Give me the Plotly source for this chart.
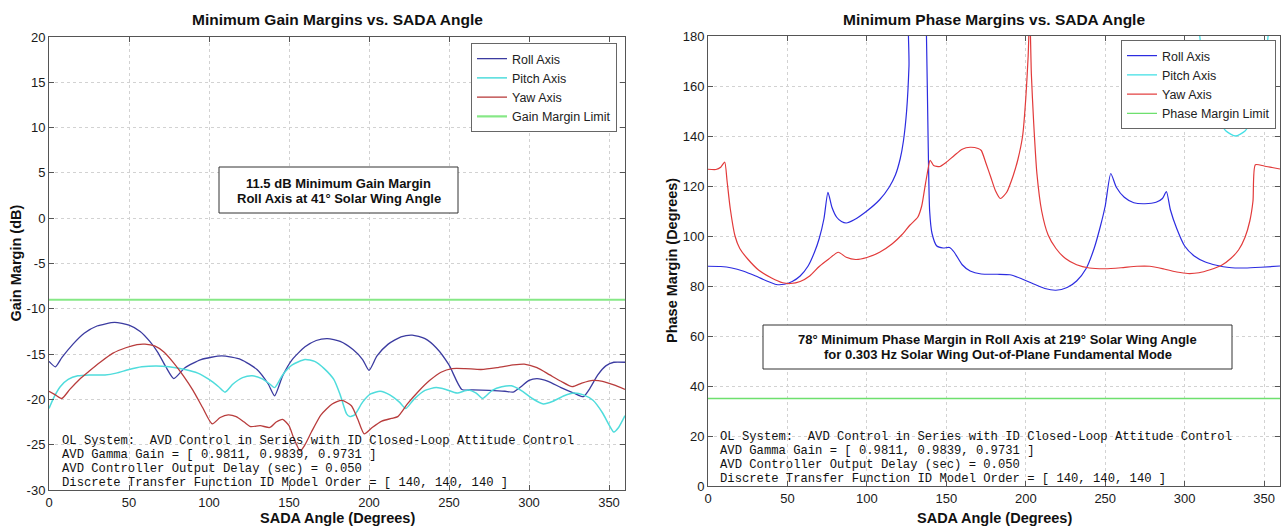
import plotly.graph_objects as go

# ---------------- data ----------------
GAIN_ROLL_DEG = [0, 4, 8, 15, 22, 30, 41, 50, 57, 63, 68, 73, 78, 85, 95, 108, 120, 130, 137, 141,
                 146, 152, 160, 167, 174, 182, 190, 196, 200, 205, 212, 220, 227, 235, 242, 250, 258,
                 265, 275, 285, 290, 295, 300, 305, 312, 320, 328, 334, 338, 343, 348, 353, 360]
GAIN_ROLL_DB = [-15.8, -16.4, -15.4, -13.9, -12.7, -11.9, -11.5, -11.8, -12.5, -13.6, -14.8, -16.4, -17.7,
                -16.5, -15.6, -15.2, -15.6, -16.7, -18.3, -19.6,
                -17.4, -15.6, -14.2, -13.5, -13.3, -13.6, -14.5, -15.6, -16.8, -15.2, -13.9, -13.1, -12.9,
                -13.3, -14.3, -16.2, -18.9,
                -18.95, -19.0, -19.1, -19.2, -18.6, -17.9, -17.7, -18.0, -18.7, -19.3, -19.7, -18.8, -17.3,
                -16.3, -15.9, -15.9]

GAIN_PITCH_DEG = [0, 3, 7, 12, 18, 25, 35, 42, 50, 58, 67, 75, 85, 93, 100, 106, 110, 115, 121, 127, 133,
                  138, 141, 146, 152, 160, 166, 172, 178, 182, 186, 188, 191, 196, 201, 207, 213, 219, 223,
                  228, 235, 242, 248, 255, 262, 267, 271, 277, 283, 289, 295, 302, 309, 315, 322, 328, 334,
                  340, 346, 350, 353, 356, 360]
GAIN_PITCH_DB = [-21.0, -19.8, -18.6, -17.8, -17.4, -17.3, -17.3, -17.1, -16.7, -16.4, -16.3, -16.4, -16.7,
                 -17.1, -17.8, -18.6, -19.2, -18.3, -17.6, -17.4, -17.7, -18.3, -18.7, -17.3, -16.2, -15.6,
                 -15.8, -16.6, -17.8, -19.5, -21.6, -21.9, -21.7, -20.3, -19.4, -19.1, -19.5, -20.3, -21.0,
                 -20.0, -19.0, -18.7, -18.9, -19.3, -18.95, -19.3, -19.9, -19.0, -18.6, -18.5, -19.0, -19.9,
                 -20.5, -20.2, -19.6, -19.3, -19.5, -20.1, -21.5, -22.8, -23.6, -23.1, -21.8]

GAIN_YAW_DEG = [0, 4, 8, 13, 19, 25, 32, 40, 48, 55, 60, 66, 72, 78, 84, 90, 96, 102, 107, 112, 117, 122,
                126, 132, 138, 142, 146, 150, 153, 157, 160, 164, 170, 177, 183, 189, 193, 197, 202, 208,
                214, 218, 224, 231, 238, 245, 252, 260, 270, 280, 290, 297, 305, 313, 320, 327, 333, 340,
                346, 353, 360]
GAIN_YAW_DB = [-19.1, -19.5, -19.9, -18.9, -17.8, -16.9, -15.9, -14.9, -14.3, -13.95, -13.9, -14.1, -14.8,
               -16.0, -17.4, -19.0, -20.9, -22.7, -22.0, -21.7, -21.9, -22.5, -23.0, -22.9, -23.1, -22.5,
               -22.2, -22.9, -24.3, -25.7, -25.0, -23.6, -21.7, -20.5, -20.1, -20.7, -22.2, -23.8, -23.1,
               -22.4, -22.1, -21.9, -20.5, -19.1, -17.9, -17.0, -16.6, -16.6, -16.7, -16.5, -16.2, -16.1,
               -16.5, -17.3, -18.0, -18.6, -18.2, -17.9, -18.0, -18.4, -18.9]

GAIN_LIMIT_DEG = [0, 360]
GAIN_LIMIT_DB = [-9, -9]

PHASE_ROLL_DEG = [0, 8, 15, 22, 30, 37, 43, 48, 53, 58, 63, 67, 70, 73, 75.5, 78, 81, 84, 87, 92, 100, 108,
                  114, 118, 121, 123, 125, 126.5, 127.5, 136.5, 137.5, 138.5, 139.5, 141, 144, 148, 152, 155,
                  160, 165, 172, 182, 190, 197, 205, 212, 219, 226, 232, 238, 243, 247, 250, 253.5, 257,
                  262, 268, 275, 282, 286, 288.5, 291, 295, 300, 306, 313, 320, 328, 338, 348, 360]
PHASE_ROLL_VAL = [87.9, 87.8, 87.2, 86.0, 84.0, 82.0, 80.6, 80.7, 81.8, 84.0, 88.0, 93.5, 99.0, 107.0,
                  117.5, 111.5, 107.5, 105.8, 105.2, 106.5, 110.0, 114.5, 119.5, 124.5, 131.0, 138.0, 150.0,
                  168.0, 200.0, 200.0, 180.0, 140.0, 110.0, 101.0, 96.0, 95.2, 95.4, 93.5, 88.5, 86.0, 84.8,
                  84.7, 84.5, 83.0, 80.8, 79.0, 78.3, 79.4, 82.0, 87.0, 95.0, 104.0, 112.0, 125.0, 119.5,
                  115.5, 113.3, 112.9, 113.5, 115.0, 117.8, 110.5, 103.0, 96.0, 92.0, 89.6, 88.3, 87.4, 87.2,
                  87.5, 88.0]

PHASE_PITCH_DEG = [307, 309.5, 312, 316, 321, 326, 332, 338, 343, 347, 350, 352.5, 354.5]
PHASE_PITCH_VAL = [195, 180, 165, 155, 147, 142, 140, 142, 147, 155, 165, 180, 195]

PHASE_YAW_DEG = [0, 5, 8, 10.5, 12, 14, 17, 20, 25, 32, 40, 47, 52, 58, 64, 70, 76, 82, 87, 93, 100, 108,
                 116, 122, 127, 132, 134.5, 136.5, 138, 139.8, 142, 146, 150, 155, 160, 165, 170, 172, 175,
                 178, 181, 184, 188, 192, 195, 198, 200, 201.5, 202.5, 203.5, 205, 207, 210, 214, 219, 225,
                 232, 240, 250, 260, 270, 278, 287, 295, 302, 309, 316, 323, 329, 334, 338, 341, 343, 344.5,
                 350, 355, 360]
PHASE_YAW_VAL = [126.7, 126.6, 127.5, 129.6, 122.0, 111.0, 100.0, 95.0, 90.8, 86.3, 83.2, 81.3, 81.0, 81.8,
                 84.0, 87.8, 90.8, 93.5, 91.5, 90.6, 91.4, 93.5, 96.9, 100.5, 104.3, 107.5, 112.0, 119.5,
                 125.0, 130.3, 128.2, 127.8, 129.5, 132.2, 134.7, 135.5, 135.0, 134.2, 129.0, 123.5, 118.0,
                 115.0, 117.5, 124.0, 130.5, 140.0, 155.0, 172.0, 190.0, 165.0, 145.0, 125.0, 110.0, 100.5,
                 95.0, 91.0, 88.5, 87.2, 86.9, 87.3, 87.9, 87.9, 86.8, 85.6, 85.0, 85.3, 86.5, 88.2, 91.0,
                 94.5, 99.5, 106.0, 114.0, 128.5, 128.0, 127.4, 126.8]

PHASE_LIMIT_DEG = [0, 360]
PHASE_LIMIT_VAL = [35, 35]

X_TICKS = [0, 50, 100, 150, 200, 250, 300, 350]
GAIN_TICKS = [-30, -25, -20, -15, -10, -5, 0, 5, 10, 15, 20]
GAIN_TICK_TEXT = ["-30", "-25", "-20", "-15", "-10", "-5", "0", "5", "10", "15", "20"]
PHASE_TICKS = [0, 20, 40, 60, 80, 100, 120, 140, 160, 180]

NOTE_LINES = [
    "OL System:  AVD Control in Series with ID Closed-Loop Attitude Control",
    "AVD Gamma Gain = [ 0.9811, 0.9839, 0.9731 ]",
    "AVD Controller Output Delay (sec) = 0.050",
    "Discrete Transfer Function ID Model Order = [ 140, 140, 140 ]",
]
GAIN_BOX_LINES = ["11.5 dB Minimum Gain Margin", "Roll Axis at 41\u00b0 Solar Wing Angle"]
PHASE_BOX_LINES = ["78\u00b0 Minimum Phase Margin in Roll Axis at 219\u00b0 Solar Wing Angle",
                   "for 0.303 Hz Solar Wing Out-of-Plane Fundamental Mode"]

# ---------------- layout helpers ----------------
W, H = 1282, 528
def px(x):
    return x / W
def py(y):
    return 1 - y / H

SANS = "Liberation Sans"
MONO = "Liberation Mono"

fig = go.Figure()

def line(x, y, name, color, width, xa, ya, leg, smooth=True):
    fig.add_trace(go.Scatter(x=x, y=y, mode="lines", name=name,
                             line=dict(color=color, width=width,
                                       shape="spline" if smooth else "linear", smoothing=0.6),
                             xaxis=xa, yaxis=ya, legend=leg, hoverinfo="skip"))

# left chart
line(GAIN_ROLL_DEG, GAIN_ROLL_DB, "Roll Axis", "#3b3ba0", 1.3, "x", "y", "legend")
line(GAIN_PITCH_DEG, GAIN_PITCH_DB, "Pitch Axis", "#4fdcdc", 1.5, "x", "y", "legend")
line(GAIN_YAW_DEG, GAIN_YAW_DB, "Yaw Axis", "#b83c3c", 1.3, "x", "y", "legend")
line(GAIN_LIMIT_DEG, GAIN_LIMIT_DB, "Gain Margin Limit", "#86e886", 2.2, "x", "y", "legend", False)

# right chart
line(PHASE_ROLL_DEG, PHASE_ROLL_VAL, "Roll Axis", "#2c2ce0", 1.2, "x2", "y2", "legend2")
line(PHASE_PITCH_DEG, PHASE_PITCH_VAL, "Pitch Axis", "#45e0e6", 1.3, "x2", "y2", "legend2")
line(PHASE_YAW_DEG, PHASE_YAW_VAL, "Yaw Axis", "#e23a3a", 1.2, "x2", "y2", "legend2")
line(PHASE_LIMIT_DEG, PHASE_LIMIT_VAL, "Phase Margin Limit", "#6ee06e", 1.3, "x2", "y2", "legend2", False)

axis_common = dict(showline=True, linecolor="#555555", linewidth=1, mirror="allticks",
                   ticks="inside", ticklen=5, tickcolor="#555555",
                   showgrid=True, gridcolor="#d2d2d2", griddash="dot", gridwidth=1,
                   zeroline=False, automargin=False,
                   tickfont=dict(family=SANS, size=13, color="#1a1a1a"))

L_X0, L_X1, L_Y0, L_Y1 = 49, 625, 37, 490
R_X0, R_X1, R_Y0, R_Y1 = 708, 1280, 36, 486

fig.update_layout(
    width=W, height=H, margin=dict(l=0, r=0, t=0, b=0),
    paper_bgcolor="white", plot_bgcolor="white",
    xaxis=dict(domain=[px(L_X0), px(L_X1)], range=[0, 360], tickvals=X_TICKS, anchor="y", **axis_common),
    yaxis=dict(domain=[py(L_Y1), py(L_Y0)], range=[-30, 20], tickvals=GAIN_TICKS, ticktext=GAIN_TICK_TEXT,
               anchor="x", **axis_common),
    xaxis2=dict(domain=[px(R_X0), px(R_X1)], range=[0, 360], tickvals=X_TICKS, anchor="y2", **axis_common),
    yaxis2=dict(domain=[py(R_Y1), py(R_Y0)], range=[0, 180], tickvals=PHASE_TICKS, anchor="x2", **axis_common),
    legend=dict(x=px(617), y=py(43), xanchor="right", yanchor="top", bgcolor="white",
                bordercolor="#666666", borderwidth=1, font=dict(family=SANS, size=12.5, color="#222"),
                tracegroupgap=0),
    legend2=dict(x=px(1276), y=py(40), xanchor="right", yanchor="top", bgcolor="white",
                 bordercolor="#666666", borderwidth=1, font=dict(family=SANS, size=12.5, color="#222"),
                 tracegroupgap=0),
    showlegend=True,
)

ann = []
shapes = []
def text(x, y, s, size, bold=False, family=SANS, xanchor="center", angle=0, color="#111"):
    ann.append(dict(xref="paper", yref="paper", x=px(x), y=py(y), text=("<b>%s</b>" % s) if bold else s,
                    showarrow=False, xanchor=xanchor, yanchor="middle", textangle=angle, borderpad=0,
                    font=dict(family=family, size=size, color=color)))

# titles
text((L_X0 + L_X1) / 2, 19, "Minimum Gain Margins vs. SADA Angle", 15.5, bold=True)
text((R_X0 + R_X1) / 2, 19, "Minimum Phase Margins vs. SADA Angle", 15.5, bold=True)
text((L_X0 + L_X1) / 2, 518, "SADA Angle (Degrees)", 14.5, bold=True)
text((R_X0 + R_X1) / 2, 518, "SADA Angle (Degrees)", 14.5, bold=True)
text(15, (L_Y0 + L_Y1) / 2, "Gain Margin (dB)", 14.5, bold=True, angle=-90)
text(672, (R_Y0 + R_Y1) / 2, "Phase Margin (Degrees)", 14.5, bold=True, angle=-90)

# boxes
shapes.append(dict(type="rect", xref="paper", yref="paper", x0=px(219), x1=px(458), y0=py(213), y1=py(167),
                   line=dict(color="#333333", width=1), fillcolor="white", layer="above"))
text(338.5, 183.5, GAIN_BOX_LINES[0], 13, bold=True)
text(338.5, 198, GAIN_BOX_LINES[1], 13, bold=True)
shapes.append(dict(type="rect", xref="paper", yref="paper", x0=px(763), x1=px(1232), y0=py(369), y1=py(325),
                   line=dict(color="#333333", width=1), fillcolor="white", layer="above"))
text(997.5, 339, PHASE_BOX_LINES[0], 13, bold=True)
text(997.5, 354, PHASE_BOX_LINES[1], 13, bold=True)

# notes
for i, s in enumerate(NOTE_LINES):
    text(61, 441 + 14 * i, s, 12.2, family=MONO, xanchor="left", color="#111")
    text(719, 437 + 14 * i, s, 12.2, family=MONO, xanchor="left", color="#111")

fig.update_layout(annotations=ann, shapes=shapes)
fig.write_html("out.html")
